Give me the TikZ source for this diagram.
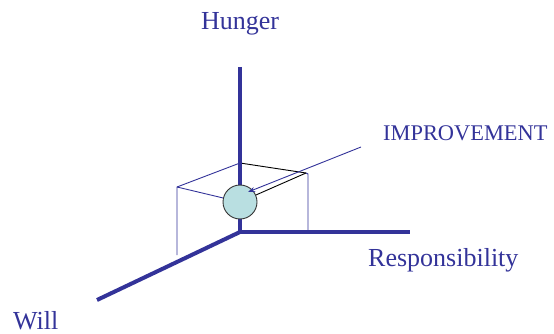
\documentclass[tikz,border=0pt]{standalone}
\usepackage{fontspec}
\setmainfont{Liberation Serif}
\usetikzlibrary{arrows.meta}
\definecolor{axblue}{HTML}{333399}
\definecolor{ballfill}{HTML}{B9DFE1}
\tikzset{
  lbl/.style={text=axblue, font=\fontsize{26}{30}\selectfont, inner sep=0pt},
  axis/.style={draw=axblue, line width=4pt},
  thinblue/.style={draw=axblue, line width=0.9pt},
  thinblack/.style={draw=black, line width=0.9pt},
}
\begin{document}
\begin{tikzpicture}[x=1pt,y=-1pt]
\useasboundingbox (0,0) rectangle (554,334);
% key points
\coordinate (O) at (240,232);
\coordinate (top) at (240,67);
\coordinate (right) at (410,232);
\coordinate (left) at (97,300);
\coordinate (bt) at (240,163);
\coordinate (lt) at (177,187);
\coordinate (lb) at (177,255);
\coordinate (rt) at (306,173);
\coordinate (rtb) at (308,174);
\coordinate (rb) at (308,232);
\coordinate (arrstart) at (361,147);
\coordinate (arrtip) at (248,192);
% box lines
\draw[thinblue] (bt) -- (lt) -- (lb);
\draw[thinblack] (bt) -- (rt);
\draw[thinblue] (rt) -- (rtb) -- (rb);
% axes
\draw[axis] (top) -- (O) -- (right);
\draw[axis] (O) -- (left);
% ball
\node[circle, draw=black!80, line width=0.9pt, fill=ballfill, minimum size=34pt, inner sep=0pt] (ball) at (240,202) {};
\draw[thinblue] (lt) -- (ball);
\draw[thinblack] (rt) -- (ball);
\draw[thinblue, -{Stealth[length=7pt,width=5pt]}] (arrstart) -- (arrtip);
% labels
\node[lbl, anchor=base] (hunger) at (240,30) {Hunger};
\node[lbl, anchor=base west, font=\fontsize{22.4}{26}\selectfont] (impr) at (383,140) {IMPROVEMENT};
\node[lbl, anchor=base west] (resp) at (368,266) {Responsibility};
\node[lbl, anchor=base west] (will) at (13,329) {Will};
\end{tikzpicture}
\end{document}
